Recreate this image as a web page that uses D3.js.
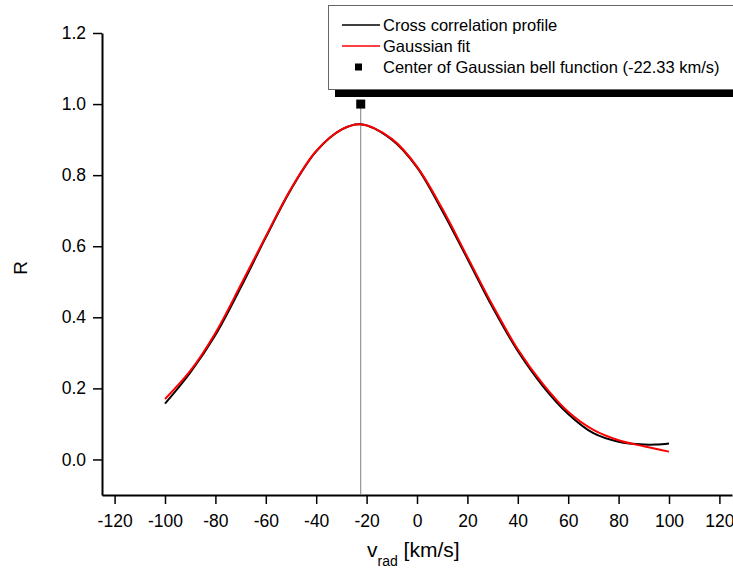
<!DOCTYPE html>
<html>
<head>
<meta charset="utf-8">
<script src="https://cdn.jsdelivr.net/npm/d3@7"></script>
<style>
  body { margin: 0; background: #fff; }
  svg { display: block; font-family: "Liberation Sans", Arial, sans-serif; }
</style>
</head>
<body>
<svg width="733" height="572"></svg>
<script>
// values
var corrV = [-100, -90, -80, -70, -60, -50, -40, -30, -22.33, -10, 0, 10, 20, 30, 40, 50, 60, 70, 80, 90, 95, 100];
var corrR = [0.157, 0.244, 0.350, 0.483, 0.625, 0.760, 0.867, 0.928, 0.943, 0.900, 0.822, 0.700, 0.565, 0.428, 0.305, 0.206, 0.128, 0.074, 0.050, 0.042, 0.042, 0.045];

var fitV = [-100, -90, -80, -70, -60, -50, -40, -30, -22.33, -10, 0, 10, 20, 30, 40, 50, 60, 70, 80, 90, 100];
var fitR = [0.170, 0.249, 0.356, 0.490, 0.628, 0.762, 0.868, 0.928, 0.943, 0.902, 0.824, 0.706, 0.570, 0.434, 0.310, 0.212, 0.134, 0.083, 0.054, 0.037, 0.022];

var centerV = -22.33;
var centerR = 1.0;

var xTicks = [-120, -100, -80, -60, -40, -20, 0, 20, 40, 60, 80, 100, 120];
var yTicks = [0.0, 0.2, 0.4, 0.6, 0.8, 1.0, 1.2];

var legendLabels = ["Cross correlation profile", "Gaussian fit", "Center of Gaussian bell function (-22.33 km/s)"];

var svg = d3.select("svg");

var x = d3.scaleLinear().domain([-125, 125]).range([102, 732]);
var y = d3.scaleLinear().domain([-0.1, 1.2]).range([495, 33]);

var g = svg.append("g");
var font = "Liberation Sans, Arial, sans-serif";

// x axis
var xAxis = g.append("g").attr("transform", "translate(0,495)");
xAxis.call(d3.axisBottom(x).tickValues(d3.range(-120, 125, 10)).tickSize(5).tickFormat(""));
xAxis.call(d3.axisBottom(x).tickValues(xTicks).tickSize(9).tickSizeOuter(0).tickPadding(11)
  .tickFormat(function(d) { return String(d); }));
xAxis.selectAll("path").attr("stroke-width", 2);
xAxis.selectAll("line").attr("stroke-width", 1.5);
xAxis.selectAll("text").attr("font-size", 17.5).attr("fill", "#000").attr("font-family", font);

// y axis
var yAxis = g.append("g").attr("transform", "translate(102,0)");
yAxis.call(d3.axisLeft(y).tickValues(d3.range(-0.1, 1.25, 0.1).map(function(d) { return +d.toFixed(1); })).tickSize(5).tickFormat(""));
yAxis.call(d3.axisLeft(y).tickValues(yTicks).tickSize(9).tickSizeOuter(0).tickPadding(7)
  .tickFormat(function(d) { return d.toFixed(1); }));
yAxis.selectAll("path").attr("stroke-width", 2);
yAxis.selectAll("line").attr("stroke-width", 1.5);
yAxis.selectAll("text").attr("font-size", 17.5).attr("fill", "#000").attr("font-family", font);

// axis titles
svg.append("text")
  .attr("transform", "translate(27,268) rotate(-90)")
  .attr("text-anchor", "middle")
  .attr("font-size", 19)
  .text("R");

var xt = svg.append("text")
  .attr("x", 367).attr("y", 557)
  .attr("font-size", 21);
xt.append("tspan").text("v");
xt.append("tspan").attr("font-size", 14).attr("dy", 9).text("rad");
xt.append("tspan").attr("dy", -9).text(" [km/s]");

// vertical line at fitted centre
g.append("line")
  .attr("x1", x(centerV)).attr("x2", x(centerV))
  .attr("y1", y(centerR)).attr("y2", y(-0.1))
  .attr("stroke", "#808080").attr("stroke-width", 1);

var line = d3.line().curve(d3.curveCatmullRom.alpha(0.5));

g.append("path")
  .attr("d", line(corrV.map(function(v, i) { return [x(v), y(corrR[i])]; })))
  .attr("fill", "none").attr("stroke", "#000").attr("stroke-width", 2);

g.append("path")
  .attr("d", line(fitV.map(function(v, i) { return [x(v), y(fitR[i])]; })))
  .attr("fill", "none").attr("stroke", "#ff0000").attr("stroke-width", 2);

// centre marker
g.append("rect")
  .attr("x", x(centerV) - 4.5).attr("y", y(centerR) - 4.5)
  .attr("width", 9).attr("height", 9)
  .attr("fill", "#000");

// legend
var leg = svg.append("g");
leg.append("rect").attr("x", 335).attr("y", 12).attr("width", 420).attr("height", 85).attr("fill", "#000");
leg.append("rect").attr("x", 328.5).attr("y", 5.5).attr("width", 420).attr("height", 84)
  .attr("fill", "#fff").attr("stroke", "#666").attr("stroke-width", 1);

var legY = [25, 46, 67];
leg.append("line").attr("x1", 342).attr("x2", 380).attr("y1", legY[0]).attr("y2", legY[0])
  .attr("stroke", "#000").attr("stroke-width", 1.5);
leg.append("line").attr("x1", 342).attr("x2", 380).attr("y1", legY[1]).attr("y2", legY[1])
  .attr("stroke", "#ff0000").attr("stroke-width", 1.5);
leg.append("rect").attr("x", 355).attr("y", legY[2] - 3.5).attr("width", 7).attr("height", 7).attr("fill", "#000");

leg.selectAll("text.lab")
  .data(legendLabels)
  .enter().append("text")
  .attr("class", "lab")
  .attr("x", 383)
  .attr("y", function(d, i) { return legY[i] + 5.5; })
  .attr("font-size", 16.5)
  .text(function(d) { return d; });
</script>
</body>
</html>
